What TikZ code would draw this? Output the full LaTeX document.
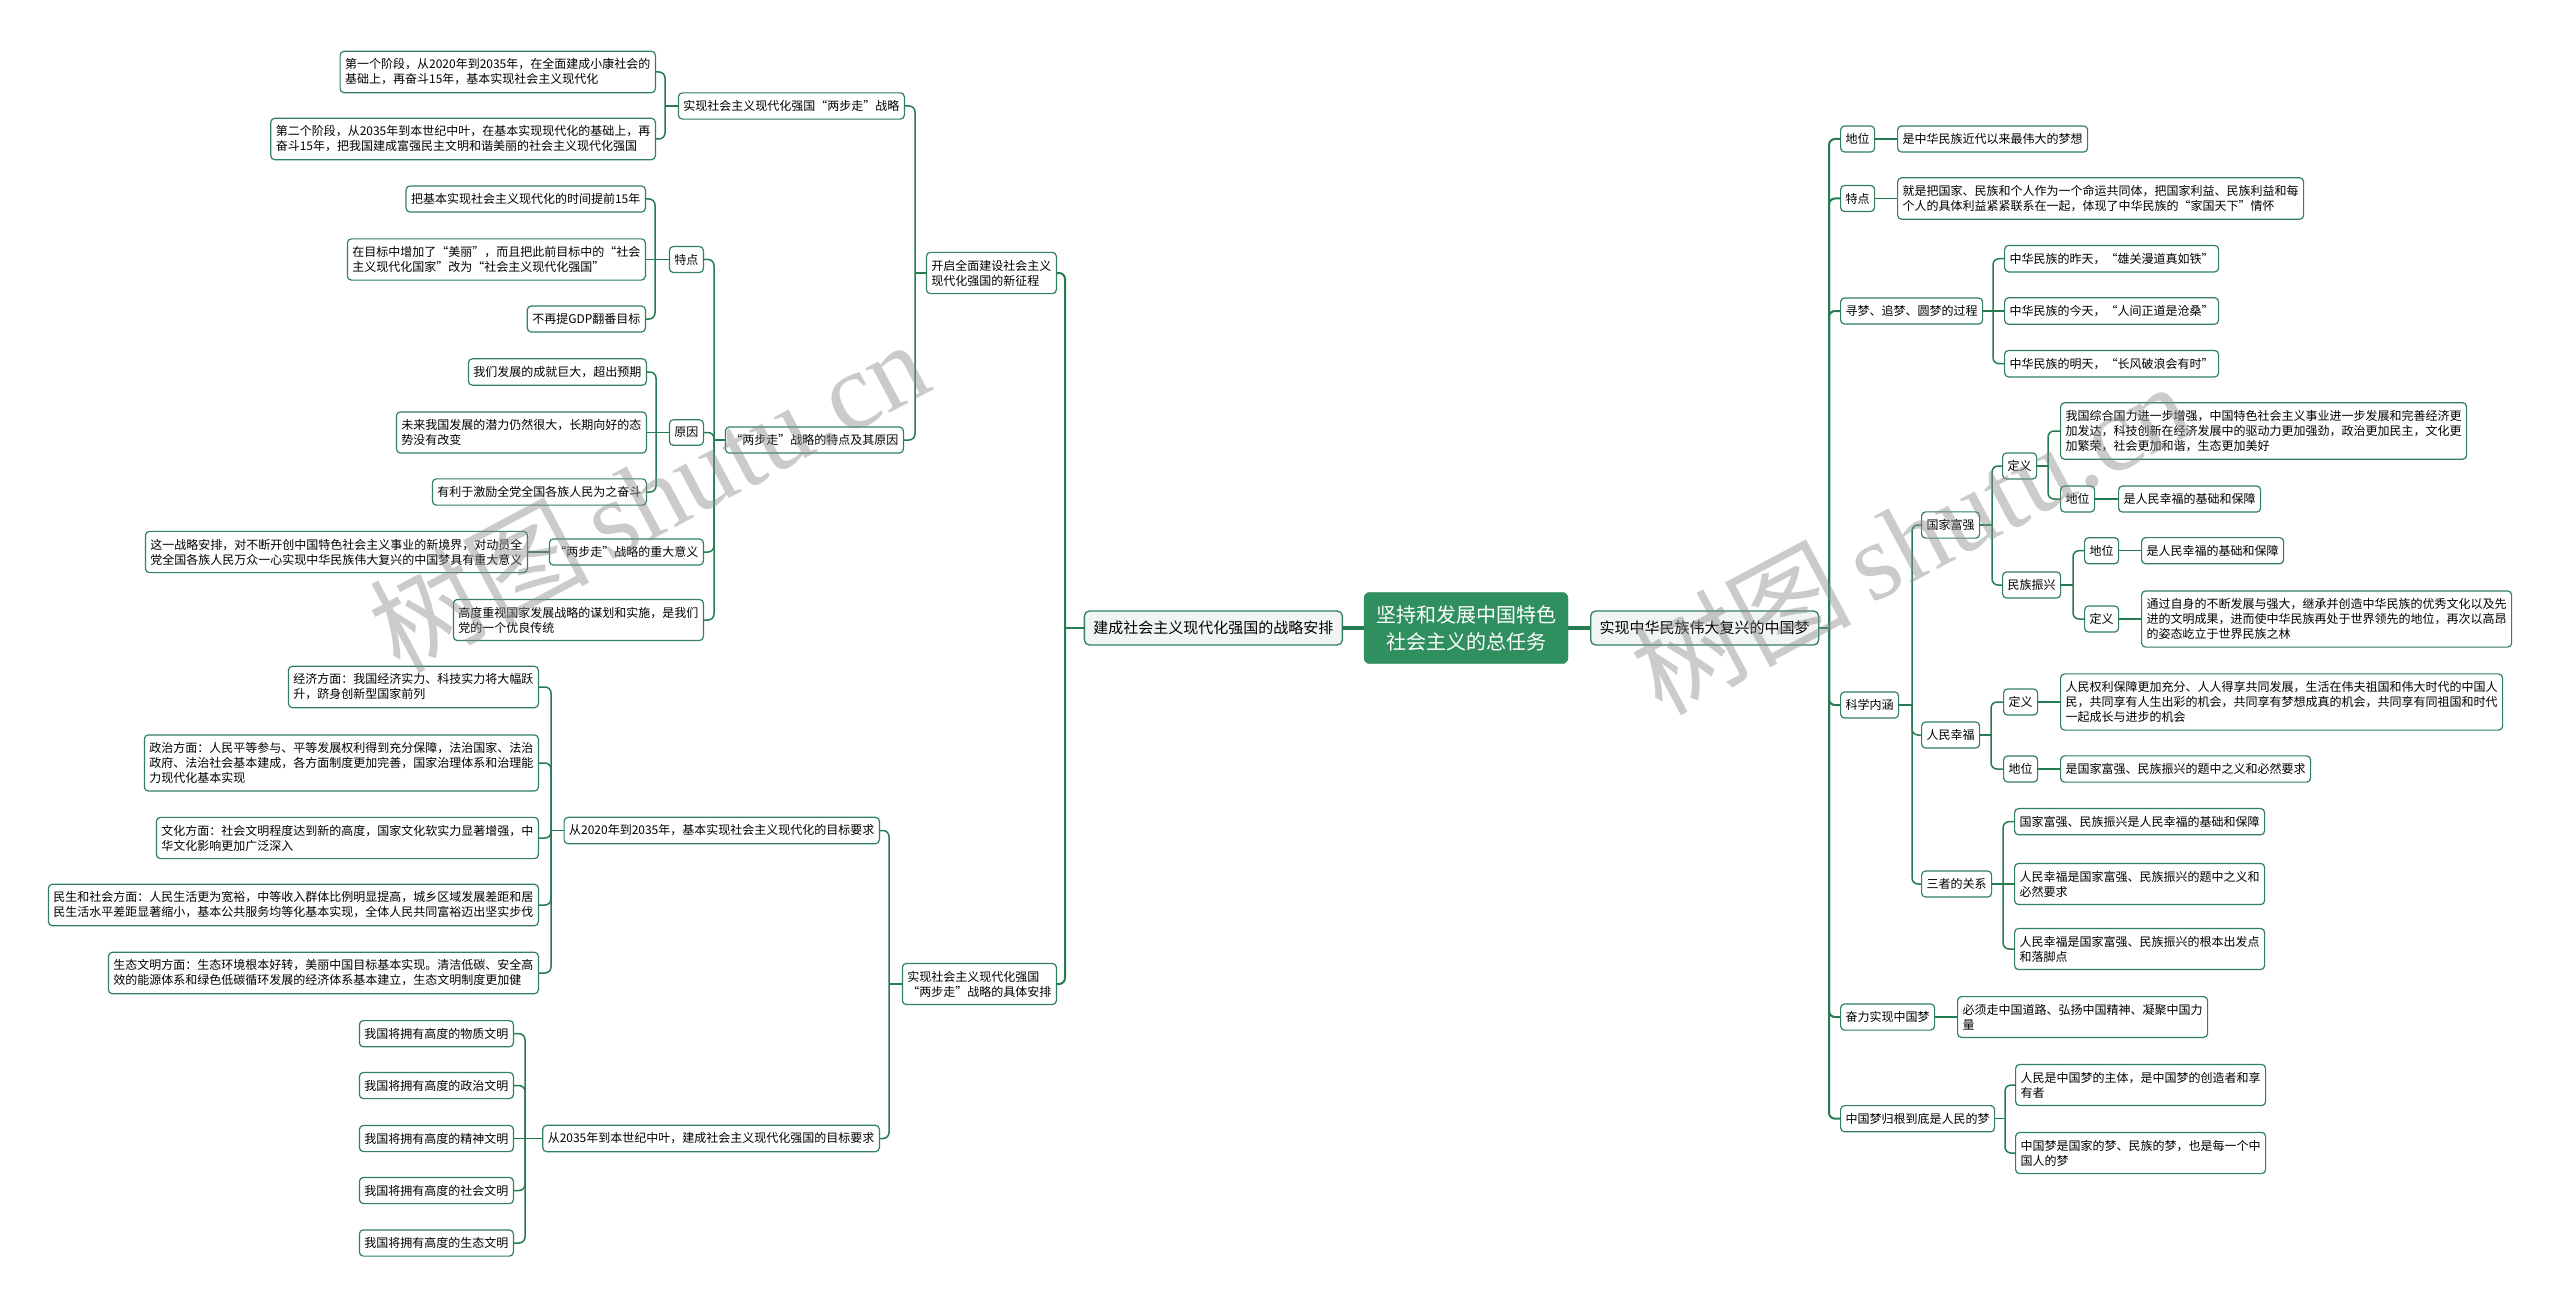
\documentclass[tikz,border=0pt]{standalone}
\usepackage{fontspec}
\setmainfont{Noto Sans CJK SC}
\newfontfamily\wmserif{Liberation Serif}
\definecolor{linec}{RGB}{36,124,80}
\definecolor{bordc}{RGB}{50,128,92}
\definecolor{centc}{RGB}{47,143,94}
\definecolor{lonefill}{RGB}{241,245,243}
\begin{document}
\begin{tikzpicture}[x=1pt,y=-1pt,
 box/.style={draw=bordc, line width=1.2pt, rounded corners=4pt, fill=white, font=\fontsize{12}{15}\selectfont, inner xsep=5pt, inner ysep=7.5pt, align=left},
 lb/.style={box, anchor=east},
 rb/.style={box, anchor=west},
 lone/.style={draw=bordc, line width=1.3pt, rounded corners=5pt, fill=lonefill, font=\fontsize{15}{18}\selectfont, inner xsep=9pt, inner ysep=10pt},
 mainnode/.style={fill=centc, draw=centc, text=white, rounded corners=6pt, font=\fontsize{20}{27}\selectfont, align=center, inner xsep=12pt, inner ysep=13pt},
 conn/.style={draw=linec, line width=1.5pt},
 conntwo/.style={draw=linec, line width=2pt},
 connthree/.style={draw=linec, line width=3.2pt},
 rc/.style={rounded corners=6pt},
 wm/.style={text=black!45, opacity=0.45, font=\fontsize{110}{110}\selectfont}
]
\fill[white] (0,0) rectangle (2560,1308);
\useasboundingbox (0,0) rectangle (2560,1308);

% ---------- centre ----------
\node[mainnode] (root) at (1466,628) {坚持和发展中国特色\\社会主义的总任务};
\node[lone, anchor=east] (L1) at (1343,628) {建成社会主义现代化强国的战略安排};
\node[lone, anchor=west] (R1) at (1590,628) {实现中华民族伟大复兴的中国梦};
\draw[connthree] (root.west) -- (L1.east);
\draw[connthree] (root.east) -- (R1.west);

% ---------- left ----------
\node[lb] (La) at (1057,273) {开启全面建设社会主义\\现代化强国的新征程};
\node[lb] (Lb) at (1057,984) {实现社会主义现代化强国\\“两步走”战略的具体安排};
\coordinate (tL1) at (L1.west -| 1065,0);
\draw[conntwo] (L1.west) -- (tL1);
\draw[conntwo,rc] (tL1) |- (La.east);
\draw[conntwo,rc] (tL1) |- (Lb.east);

\node[lb] (Laa) at (905,106) {实现社会主义现代化强国“两步走”战略};
\node[lb] (Lab) at (904,440) {“两步走”战略的特点及其原因};
\coordinate (tLa) at (La.west -| 915,0);
\draw[conn] (La.west) -- (tLa);
\draw[conn,rc] (tLa) |- (Laa.east);
\draw[conn,rc] (tLa) |- (Lab.east);

\node[lb] (Laa1) at (656,72) {第一个阶段，从2020年到2035年，在全面建成小康社会的\\基础上，再奋斗15年，基本实现社会主义现代化};
\node[lb] (Laa2) at (656,139) {第二个阶段，从2035年到本世纪中叶，在基本实现现代化的基础上，再\\奋斗15年，把我国建成富强民主文明和谐美丽的社会主义现代化强国};
\coordinate (tLaa) at (Laa.west -| 665,0);
\draw[conn] (Laa.west) -- (tLaa);
\draw[conn,rc] (tLaa) |- (Laa1.east);
\draw[conn,rc] (tLaa) |- (Laa2.east);

\node[lb] (Lab1) at (704,259.5) {特点};
\node[lb] (Lab2) at (704,432.5) {原因};
\node[lb] (Lab3) at (704,552) {“两步走”战略的重大意义};
\node[lb] (Lab4) at (704,620) {高度重视国家发展战略的谋划和实施，是我们\\党的一个优良传统};
\coordinate (tLab) at (Lab.west -| 714,0);
\draw[conn] (Lab.west) -- (tLab);
\draw[conn,rc] (tLab) |- (Lab1.east);
\draw[conn,rc] (tLab) |- (Lab2.east);
\draw[conn,rc] (tLab) |- (Lab3.east);
\draw[conn,rc] (tLab) |- (Lab4.east);

\node[lb] (Lab11) at (646,199) {把基本实现社会主义现代化的时间提前15年};
\node[lb] (Lab12) at (646,259.5) {在目标中增加了“美丽”，而且把此前目标中的“社会\\主义现代化国家”改为“社会主义现代化强国”};
\node[lb] (Lab13) at (646,319) {不再提GDP翻番目标};
\coordinate (tLab1) at (Lab1.west -| 655,0);
\draw[conn] (Lab1.west) -- (Lab12.east);
\draw[conn,rc] (tLab1) |- (Lab11.east);
\draw[conn,rc] (tLab1) |- (Lab13.east);

\node[lb] (Lab21) at (647,372) {我们发展的成就巨大，超出预期};
\node[lb] (Lab22) at (647,432.5) {未来我国发展的潜力仍然很大，长期向好的态\\势没有改变};
\node[lb] (Lab23) at (647,492) {有利于激励全党全国各族人民为之奋斗};
\coordinate (tLab2) at (Lab2.west -| 656,0);
\draw[conn] (Lab2.west) -- (Lab22.east);
\draw[conn,rc] (tLab2) |- (Lab21.east);
\draw[conn,rc] (tLab2) |- (Lab23.east);

\node[lb] (Lab31) at (528,552) {这一战略安排，对不断开创中国特色社会主义事业的新境界，对动员全\\党全国各族人民万众一心实现中华民族伟大复兴的中国梦具有重大意义};
\draw[conn] (Lab3.west) -- (Lab31.east);

\node[lb] (Lba) at (880,830.5) {从2020年到2035年，基本实现社会主义现代化的目标要求};
\node[lb] (Lbb) at (880,1138.5) {从2035年到本世纪中叶，建成社会主义现代化强国的目标要求};
\coordinate (tLb) at (Lb.west -| 889,0);
\draw[conn] (Lb.west) -- (tLb);
\draw[conn,rc] (tLb) |- (Lba.east);
\draw[conn,rc] (tLb) |- (Lbb.east);

\node[lb] (Lba1) at (539,687) {经济方面：我国经济实力、科技实力将大幅跃\\升，跻身创新型国家前列};
\node[lb] (Lba2) at (539,763) {政治方面：人民平等参与、平等发展权利得到充分保障，法治国家、法治\\政府、法治社会基本建成，各方面制度更加完善，国家治理体系和治理能\\力现代化基本实现};
\node[lb] (Lba3) at (539,838) {文化方面：社会文明程度达到新的高度，国家文化软实力显著增强，中\\华文化影响更加广泛深入};
\node[lb] (Lba4) at (539,905) {民生和社会方面：人民生活更为宽裕，中等收入群体比例明显提高，城乡区域发展差距和居\\民生活水平差距显著缩小，基本公共服务均等化基本实现，全体人民共同富裕迈出坚实步伐};
\node[lb] (Lba5) at (539,973) {生态文明方面：生态环境根本好转，美丽中国目标基本实现。清洁低碳、安全高\\效的能源体系和绿色低碳循环发展的经济体系基本建立，生态文明制度更加健};
\coordinate (tLba) at (Lba.west -| 551,0);
\draw[conn] (Lba.west) -- (tLba);
\foreach \c in {Lba1,Lba2,Lba3,Lba4,Lba5} \draw[conn,rc] (tLba) |- (\c.east);

\node[lb] (Lbb1) at (514,1033.7) {我国将拥有高度的物质文明};
\node[lb] (Lbb2) at (514,1085.5) {我国将拥有高度的政治文明};
\node[lb] (Lbb3) at (514,1138.5) {我国将拥有高度的精神文明};
\node[lb] (Lbb4) at (514,1190.5) {我国将拥有高度的社会文明};
\node[lb] (Lbb5) at (514,1243) {我国将拥有高度的生态文明};
\coordinate (tLbb) at (Lbb.west -| 525,0);
\draw[conn] (Lbb.west) -- (Lbb3.east);
\foreach \c in {Lbb1,Lbb2,Lbb4,Lbb5} \draw[conn,rc] (tLbb) |- (\c.east);

% ---------- right ----------
\coordinate (tR1) at (R1.east -| 1829,0);
\draw[conntwo] (R1.east) -- (tR1);

\node[rb] (Ra) at (1840,139) {地位};
\node[rb] (Ra1) at (1897,139) {是中华民族近代以来最伟大的梦想};
\draw[conn] (Ra.east) -- (Ra1.west);

\node[rb] (Rb) at (1840,198.5) {特点};
\node[rb] (Rb1) at (1897,198.5) {就是把国家、民族和个人作为一个命运共同体，把国家利益、民族利益和每\\个人的具体利益紧紧联系在一起，体现了中华民族的“家国天下”情怀};
\draw[conn] (Rb.east) -- (Rb1.west);

\node[rb] (Rc) at (1840,311) {寻梦、追梦、圆梦的过程};
\node[rb] (Rc1) at (2004,258.7) {中华民族的昨天，“雄关漫道真如铁”};
\node[rb] (Rc2) at (2004,311) {中华民族的今天，“人间正道是沧桑”};
\node[rb] (Rc3) at (2004,363.7) {中华民族的明天，“长风破浪会有时”};
\coordinate (tRc) at (Rc.east -| 1993,0);
\draw[conn] (Rc.east) -- (Rc2.west);
\draw[conn,rc] (tRc) |- (Rc1.west);
\draw[conn,rc] (tRc) |- (Rc3.west);

\node[rb] (Rd) at (1840,705) {科学内涵};
\node[rb] (Rd1) at (1921,525) {国家富强};
\node[rb] (Rd2) at (1921,735) {人民幸福};
\node[rb] (Rd3) at (1921,884) {三者的关系};
\coordinate (tRd) at (Rd.east -| 1912,0);
\draw[conn] (Rd.east) -- (tRd);
\foreach \c in {Rd1,Rd2,Rd3} \draw[conn,rc] (tRd) |- (\c.west);

\node[rb] (Rd11) at (2002,466) {定义};
\node[rb] (Rd12) at (2002,585) {民族振兴};
\coordinate (tRd1) at (Rd1.east -| 1992,0);
\draw[conn] (Rd1.east) -- (tRd1);
\draw[conn,rc] (tRd1) |- (Rd11.west);
\draw[conn,rc] (tRd1) |- (Rd12.west);

\node[rb] (Rd111) at (2060,431) {我国综合国力进一步增强，中国特色社会主义事业进一步发展和完善经济更\\加发达，科技创新在经济发展中的驱动力更加强劲，政治更加民主，文化更\\加繁荣，社会更加和谐，生态更加美好};
\node[rb] (Rd112) at (2060,499) {地位};
\node[rb] (Rd1121) at (2118,499) {是人民幸福的基础和保障};
\coordinate (tRd11) at (Rd11.east -| 2048,0);
\draw[conn] (Rd11.east) -- (tRd11);
\draw[conn,rc] (tRd11) |- (Rd111.west);
\draw[conn,rc] (tRd11) |- (Rd112.west);
\draw[conn] (Rd112.east) -- (Rd1121.west);

\node[rb] (Rd121) at (2084,550.7) {地位};
\node[rb] (Rd1211) at (2141,550.7) {是人民幸福的基础和保障};
\node[rb] (Rd122) at (2084,619) {定义};
\node[rb] (Rd1221) at (2141,619) {通过自身的不断发展与强大，继承并创造中华民族的优秀文化以及先\\进的文明成果，进而使中华民族再处于世界领先的地位，再次以高昂\\的姿态屹立于世界民族之林};
\coordinate (tRd12) at (Rd12.east -| 2073,0);
\draw[conn] (Rd12.east) -- (tRd12);
\draw[conn,rc] (tRd12) |- (Rd121.west);
\draw[conn,rc] (tRd12) |- (Rd122.west);
\draw[conn] (Rd121.east) -- (Rd1211.west);
\draw[conn] (Rd122.east) -- (Rd1221.west);

\node[rb] (Rd21) at (2003,702) {定义};
\node[rb] (Rd211) at (2060,702) {人民权利保障更加充分、人人得享共同发展，生活在伟夫祖国和伟大时代的中国人\\民，共同享有人生出彩的机会，共同享有梦想成真的机会，共同享有同祖国和时代\\一起成长与进步的机会};
\node[rb] (Rd22) at (2003,769) {地位};
\node[rb] (Rd221) at (2060,769) {是国家富强、民族振兴的题中之义和必然要求};
\coordinate (tRd2) at (Rd2.east -| 1991,0);
\draw[conn] (Rd2.east) -- (tRd2);
\draw[conn,rc] (tRd2) |- (Rd21.west);
\draw[conn,rc] (tRd2) |- (Rd22.west);
\draw[conn] (Rd21.east) -- (Rd211.west);
\draw[conn] (Rd22.east) -- (Rd221.west);

\node[rb] (Rd31) at (2014,821.7) {国家富强、民族振兴是人民幸福的基础和保障};
\node[rb] (Rd32) at (2014,884) {人民幸福是国家富强、民族振兴的题中之义和\\必然要求};
\node[rb] (Rd33) at (2014,949) {人民幸福是国家富强、民族振兴的根本出发点\\和落脚点};
\coordinate (tRd3) at (Rd3.east -| 2003,0);
\draw[conn] (Rd3.east) -- (Rd32.west);
\draw[conn,rc] (tRd3) |- (Rd31.west);
\draw[conn,rc] (tRd3) |- (Rd33.west);

\node[rb] (Re) at (1840,1017) {奋力实现中国梦};
\node[rb] (Re1) at (1957,1017) {必须走中国道路、弘扬中国精神、凝聚中国力\\量};
\draw[conn] (Re.east) -- (Re1.west);

\node[rb] (Rf) at (1840,1118.7) {中国梦归根到底是人民的梦};
\node[rb] (Rf1) at (2015,1085) {人民是中国梦的主体，是中国梦的创造者和享\\有者};
\node[rb] (Rf2) at (2015,1153) {中国梦是国家的梦、民族的梦，也是每一个中\\国人的梦};
\coordinate (tRf) at (Rf.east -| 2005,0);
\draw[conn] (Rf.east) -- (tRf);
\draw[conn,rc] (tRf) |- (Rf1.west);
\draw[conn,rc] (tRf) |- (Rf2.west);

\foreach \c in {Ra,Rb,Rc,Rd,Re,Rf} \draw[conntwo,rc] (tR1) |- (\c.west);

% ---------- watermarks ----------
\node[wm, rotate=28] (wm1) at (648,495) {树图\,{\wmserif shutu.cn}};
\node[wm, rotate=28] (wm2) at (1910,537) {树图\,{\wmserif shutu.cn}};
\end{tikzpicture}
\end{document}
